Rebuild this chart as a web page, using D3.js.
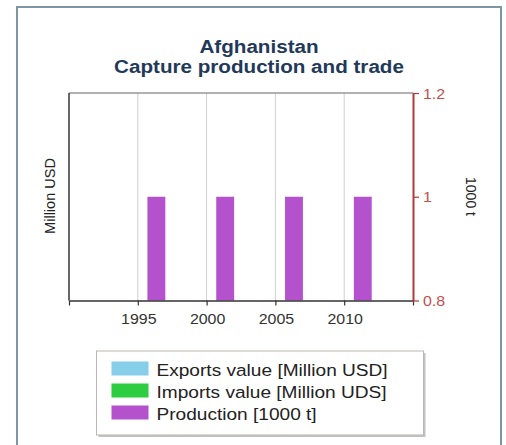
<!DOCTYPE html>
<html><head><meta charset="utf-8">
<script src="https://cdn.jsdelivr.net/npm/d3@7"></script>
<style>
html,body{margin:0;padding:0;background:#fff;}
svg{display:block;font-family:"Liberation Sans",Arial,sans-serif;}
</style></head><body>
<svg id="chart" width="506" height="445"></svg>
<script>
const titleLines = ["Afghanistan", "Capture production and trade"];
const years = [1996, 2001, 2006, 2011];
const production = [1, 1, 1, 1];
const xTickValues = [1990, 1995, 2000, 2005, 2010, 2015];
const xTickLabels = ["", "1995", "2000", "2005", "2010", ""];
const yRightTicks = [0.8, 1, 1.2];
const yRightTickLabels = ["0.8", "1", "1.2"];
const legendLabels = ["Exports value [Million USD]", "Imports value [Million UDS]", "Production [1000 t]"];
const legendColors = ["#87ceeb", "#2ecc40", "#b452cd"];
const leftAxisTitle = "Million USD";
const rightAxisTitle = "1000 t";

const SX = 1.1;
const svg = d3.select("#chart");

// outer frame
svg.append("rect").attr("x", 17).attr("y", 7).attr("width", 484).attr("height", 460)
  .attr("fill", "#fff").attr("stroke", "#7d96a3").attr("stroke-width", 2);

// title
const tcx = 259;
titleLines.forEach((t, i) => {
  svg.append("text").attr("transform", `translate(${tcx},${52.5 + i * 20.5}) scale(${SX + 0.01},1)`)
    .attr("text-anchor", "middle").attr("font-size", 18.6).attr("font-weight", "bold")
    .attr("fill", "#22395a").text(t);
});

const L = 69, R = 413, T = 93, B = 300.5;
const x = d3.scaleLinear().domain([1990, 2015]).range([L, R]);
const yR = d3.scaleLinear().domain([0.8, 1.2]).range([B, T]);

// gridlines
svg.append("g").selectAll("line").data([1995, 2000, 2005, 2010]).join("line")
  .attr("x1", d => x(d)).attr("x2", d => x(d)).attr("y1", T).attr("y2", B)
  .attr("stroke", "#cfcfcf").attr("stroke-width", 1);

// top border
svg.append("line").attr("x1", L).attr("x2", R).attr("y1", T).attr("y2", T)
  .attr("stroke", "#666").attr("stroke-width", 1.2);

// bars
svg.append("g").selectAll("rect").data(years.map((y, i) => ({y, v: production[i]}))).join("rect")
  .attr("x", d => x(d.y - 0.3)).attr("width", d => x(d.y + 1) - x(d.y - 0.3))
  .attr("y", d => yR(d.v)).attr("height", d => B - yR(d.v))
  .attr("fill", legendColors[2]);

// left axis line
svg.append("line").attr("x1", L).attr("x2", L).attr("y1", T).attr("y2", B)
  .attr("stroke", "#333").attr("stroke-width", 1.5);

// bottom axis
const xa = svg.append("g").attr("transform", `translate(0,${B})`)
  .call(d3.axisBottom(x).tickValues(xTickValues).tickSize(5).tickSizeOuter(0)
    .tickFormat((d, i) => xTickLabels[i]));
xa.select(".domain").attr("stroke", "#333").attr("stroke-width", 1.5);
xa.selectAll(".tick line").attr("stroke", "#333").attr("stroke-width", 1.2);
xa.selectAll(".tick text").attr("font-size", 14.5).attr("fill", "#333")
  .attr("font-family", "Liberation Sans, Arial, sans-serif")
  .attr("y", 0).attr("dy", 0).attr("transform", `translate(0.5,23.8) scale(${SX},1)`);

// right axis
const ya = svg.append("g").attr("transform", `translate(${R},0)`)
  .call(d3.axisRight(yR).tickValues(yRightTicks).tickSize(6).tickSizeOuter(0)
    .tickFormat((d, i) => yRightTickLabels[i]));
ya.select(".domain").attr("stroke", "#b03a3a").attr("stroke-width", 2);
ya.selectAll(".tick line").attr("stroke", "#b03a3a").attr("stroke-width", 1.2);
ya.selectAll(".tick text").attr("font-size", 14.5).attr("fill", "#c0504d")
  .attr("font-family", "Liberation Sans, Arial, sans-serif")
  .attr("x", 0).attr("dy", "0.35em").attr("transform", `translate(10,0) scale(${SX},1)`);

// axis titles
svg.append("text").attr("transform", `translate(55,${196}) rotate(-90)`)
  .attr("text-anchor", "middle").attr("font-size", 14.5).attr("fill", "#222").text(leftAxisTitle);
svg.append("text").attr("transform", `translate(466,${196.5}) rotate(90)`)
  .attr("text-anchor", "middle").attr("font-size", 14).attr("fill", "#222").text(rightAxisTitle);

// legend
const lg = svg.append("g");
lg.append("rect").attr("x", 98.5).attr("y", 353).attr("width", 327).attr("height", 84)
  .attr("fill", "#9a9a9a").attr("opacity", 0.6);
lg.append("rect").attr("x", 96.5).attr("y", 351).attr("width", 327).attr("height", 84)
  .attr("fill", "#fff").attr("stroke", "#bdb5b5").attr("stroke-width", 1);
legendLabels.forEach((t, i) => {
  const by = 375.5 + i * 22;
  lg.append("rect").attr("x", 111.5).attr("y", by - 14).attr("width", 37).attr("height", 14)
    .attr("fill", legendColors[i]);
  lg.append("text").attr("transform", `translate(156.5,${by}) scale(${SX + 0.01},1)`)
    .attr("font-size", 17.2).attr("fill", "#222").text(t);
});
</script>
</body></html>
